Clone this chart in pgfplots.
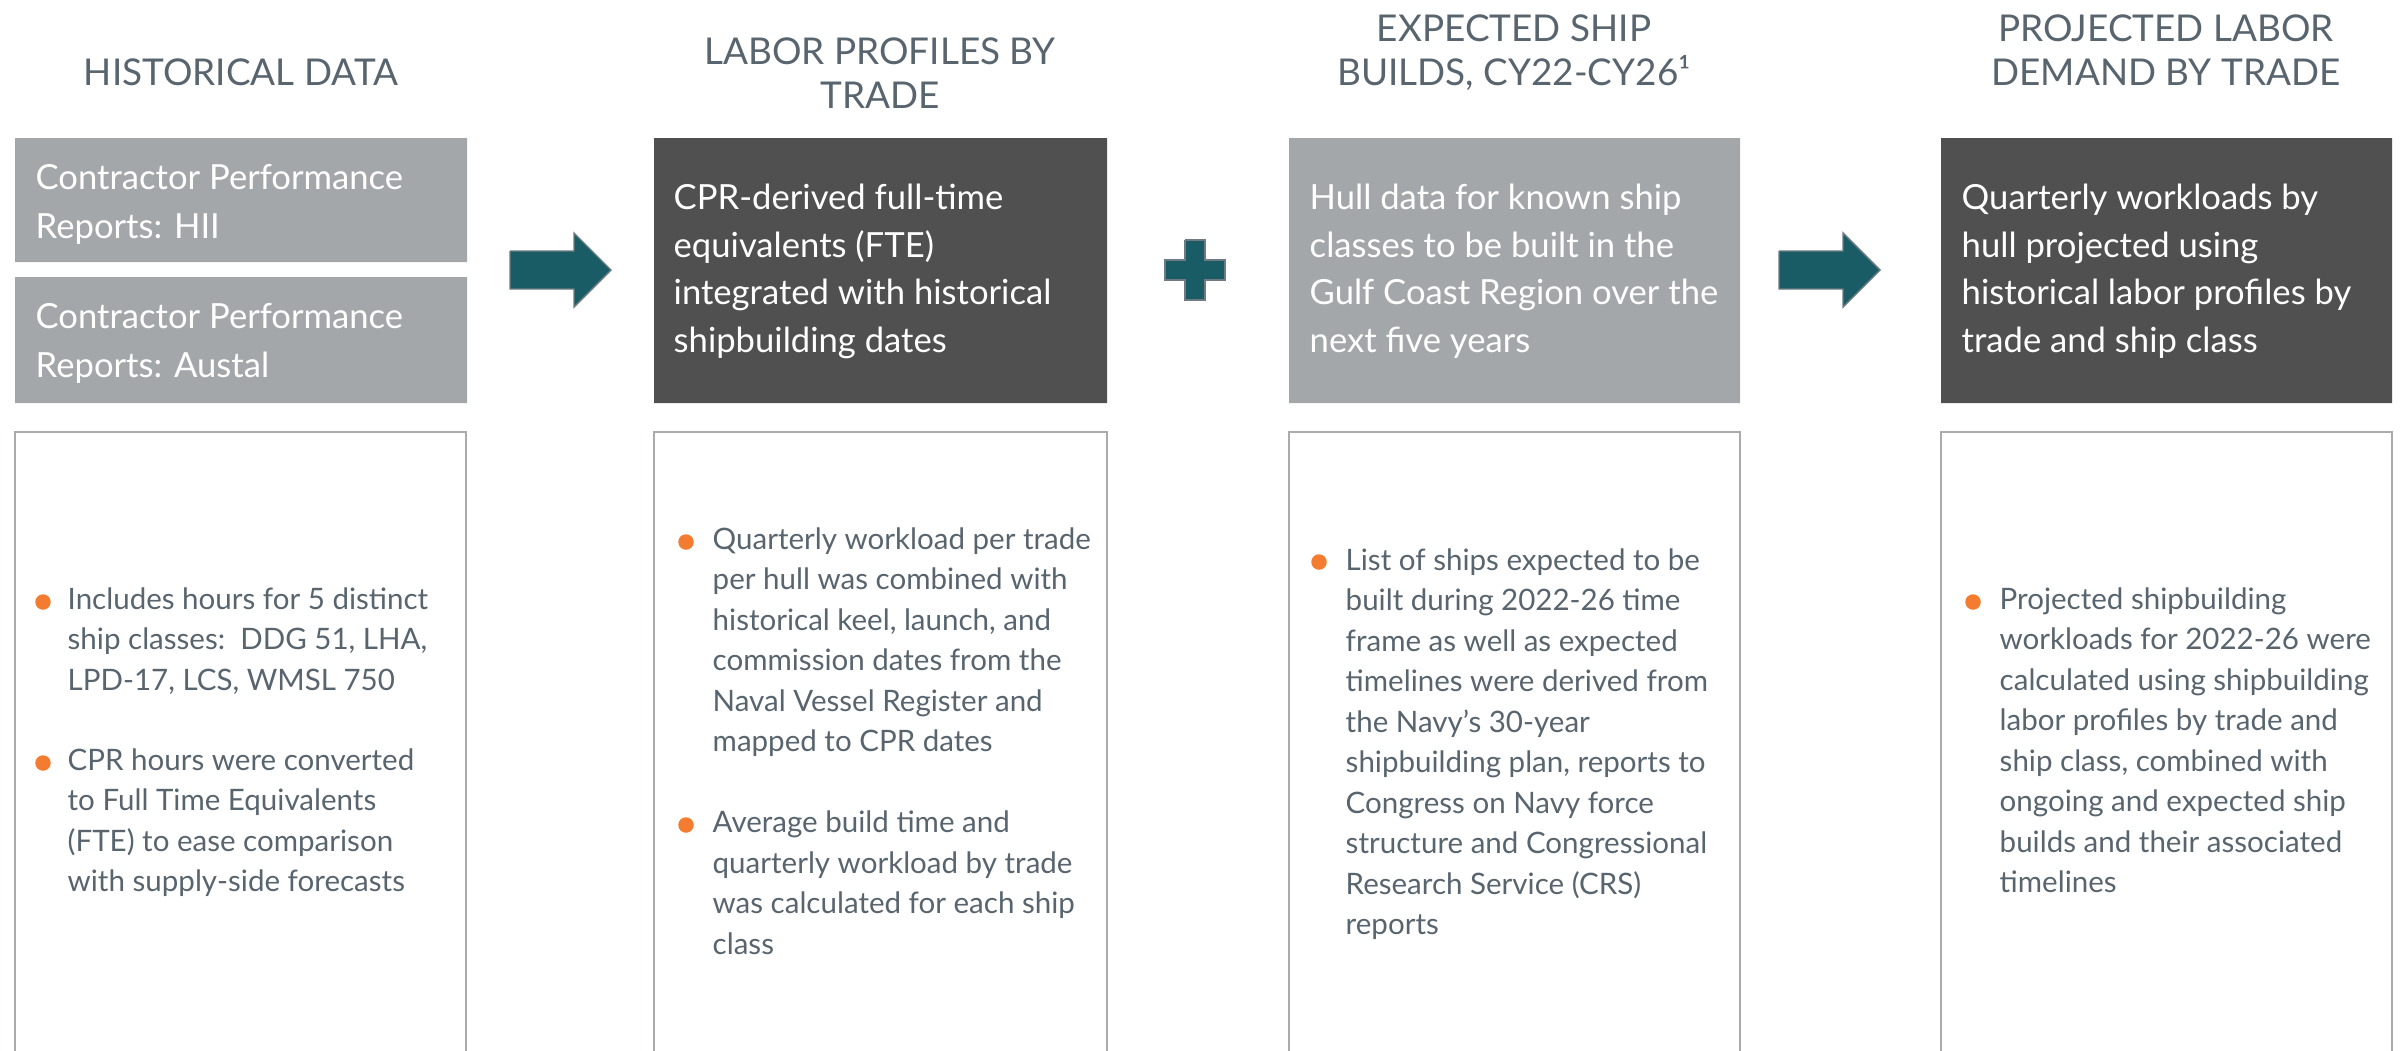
\documentclass[border=0pt]{standalone}
\usepackage{pgfplots}
\pgfplotsset{compat=1.18}
\usepackage{fontspec}
\setmainfont{Lato}
\definecolor{lightbox}{HTML}{A4A7AA}
\definecolor{darkbox}{HTML}{505050}
\definecolor{slate}{HTML}{58646E}
\definecolor{bord}{HTML}{A9ABAE}
\definecolor{teal1}{HTML}{1A5C66}
\definecolor{arrowedge}{HTML}{6E7B82}
\definecolor{orng}{HTML}{F47C30}
\tikzset{
  hd/.style={anchor=base, inner sep=0pt, text=slate, font=\fontsize{10.5}{12}\selectfont},
  bx/.style={anchor=base west, inner sep=0pt, text=white, font=\fontsize{9.85}{11}\selectfont},
  bl/.style={anchor=base west, inner sep=0pt, text=slate, font=\fontsize{8.4}{10}\selectfont},
}
\begin{document}
\begin{tikzpicture}
\begin{axis}[
  scale only axis, width=240mm, height=105mm,
  xmin=0, xmax=2400, ymin=0, ymax=1050, y dir=reverse,
  axis lines=none, ticks=none,
]
\coordinate (BB1) at (axis cs:0,1050);
\coordinate (BB2) at (axis cs:2400,0);
% top boxes
\addplot[fill=lightbox, draw=none] coordinates {(15,138) (467,138) (467,262) (15,262) (15,138)};
\addplot[fill=lightbox, draw=none] coordinates {(15,277) (467,277) (467,403) (15,403) (15,277)};
\addplot[fill=darkbox, draw=none] coordinates {(654,138) (1107,138) (1107,403) (654,403) (654,138)};
\addplot[fill=lightbox, draw=none] coordinates {(1289,138) (1740,138) (1740,403) (1289,403) (1289,138)};
\addplot[fill=darkbox, draw=none] coordinates {(1941,138) (2392,138) (2392,403) (1941,403) (1941,138)};
% bottom boxes (open at the bottom edge)
\addplot[draw=bord, line width=0.6pt] coordinates {(15,1070) (15,432) (466,432) (466,1070)};
\addplot[draw=bord, line width=0.6pt] coordinates {(654,1070) (654,432) (1107,432) (1107,1070)};
\addplot[draw=bord, line width=0.6pt] coordinates {(1289,1070) (1289,432) (1740,432) (1740,1070)};
\addplot[draw=bord, line width=0.6pt] coordinates {(1941,1070) (1941,432) (2392,432) (2392,1070)};
% arrows
\addplot[fill=teal1, draw=arrowedge, line width=0.4pt] coordinates {(510,251) (574,251) (574,233) (611,270) (574,307) (574,289) (510,289) (510,251)};
\addplot[fill=teal1, draw=arrowedge, line width=0.4pt] coordinates {(1779,251) (1843,251) (1843,233) (1880,270) (1843,307) (1843,289) (1779,289) (1779,251)};
% plus
\addplot[fill=teal1, draw=arrowedge, line width=0.5pt] coordinates {(1185,240) (1205,240) (1205,260) (1225,260) (1225,280) (1205,280) (1205,300) (1185,300) (1185,280) (1165,280) (1165,260) (1185,260) (1185,240)};
% bullets
\addplot[only marks, mark=*, mark size=2pt, color=orng] coordinates {(43,602) (43,763) (686,542) (686,825) (1319,562) (1973,602)};

% headers
\node[hd] at (axis cs:241,85.5) {HISTORICAL DATA};
\node[hd] at (axis cs:880,64.5) {LABOR PROFILES BY};
\node[hd] at (axis cs:880,108.5) {TRADE};
\node[hd] at (axis cs:1514,41.5) {EXPECTED SHIP};
\node[hd] at (axis cs:1514,85.5) {BUILDS, CY22-CY26¹};
\node[hd] at (axis cs:2166,41.5) {PROJECTED LABOR};
\node[hd] at (axis cs:2166,85.5) {DEMAND BY TRADE};

% box texts
\node[bx] at (axis cs:35,189) {Contractor Performance};
\node[bx] at (axis cs:35,238) {Reports: HII};
\node[bx] at (axis cs:35,328) {Contractor Performance};
\node[bx] at (axis cs:35,377) {Reports: Austal};

\node[bx] at (axis cs:673,209) {CPR-derived full-time};
\node[bx] at (axis cs:673,257) {equivalents (FTE)};
\node[bx] at (axis cs:673,304) {integrated with historical};
\node[bx] at (axis cs:673,352) {shipbuilding dates};

\node[bx] at (axis cs:1309,209) {Hull data for known ship};
\node[bx] at (axis cs:1309,257) {classes to be built in the};
\node[bx] at (axis cs:1309,304) {Gulf Coast Region over the};
\node[bx] at (axis cs:1309,352) {next five years};

\node[bx] at (axis cs:1961,209) {Quarterly workloads by};
\node[bx] at (axis cs:1961,257) {hull projected using};
\node[bx] at (axis cs:1961,304) {historical labor profiles by};
\node[bx] at (axis cs:1961,352) {trade and ship class};

% column 1 bullets
\node[bl] at (axis cs:67,609) {Includes hours for 5 distinct};
\node[bl] at (axis cs:67,649.5) {ship classes:\ \ DDG 51, LHA,};
\node[bl] at (axis cs:67,690) {LPD-17, LCS, WMSL 750};
\node[bl] at (axis cs:67,770) {CPR hours were converted};
\node[bl] at (axis cs:67,810.5) {to Full Time Equivalents};
\node[bl] at (axis cs:67,851) {(FTE) to ease comparison};
\node[bl] at (axis cs:67,891.5) {with supply-side forecasts};

% column 2 bullets
\node[bl] at (axis cs:712,549) {Quarterly workload per trade};
\node[bl] at (axis cs:712,589.5) {per hull was combined with};
\node[bl] at (axis cs:712,630) {historical keel, launch, and};
\node[bl] at (axis cs:712,670.5) {commission dates from the};
\node[bl] at (axis cs:712,711) {Naval Vessel Register and};
\node[bl] at (axis cs:712,751.5) {mapped to CPR dates};
\node[bl] at (axis cs:712,832.5) {Average build time and};
\node[bl] at (axis cs:712,873) {quarterly workload by trade};
\node[bl] at (axis cs:712,913.5) {was calculated for each ship};
\node[bl] at (axis cs:712,954) {class};

% column 3 bullets
\node[bl] at (axis cs:1345,570) {List of ships expected to be};
\node[bl] at (axis cs:1345,610.5) {built during 2022-26 time};
\node[bl] at (axis cs:1345,651) {frame as well as expected};
\node[bl] at (axis cs:1345,691.5) {timelines were derived from};
\node[bl] at (axis cs:1345,732) {the Navy’s 30-year};
\node[bl] at (axis cs:1345,772.5) {shipbuilding plan, reports to};
\node[bl] at (axis cs:1345,813) {Congress on Navy force};
\node[bl] at (axis cs:1345,853.5) {structure and Congressional};
\node[bl] at (axis cs:1345,894) {Research Service (CRS)};
\node[bl] at (axis cs:1345,934.5) {reports};

% column 4 bullets
\node[bl] at (axis cs:1999,609) {Projected shipbuilding};
\node[bl] at (axis cs:1999,649.5) {workloads for 2022-26 were};
\node[bl] at (axis cs:1999,690) {calculated using shipbuilding};
\node[bl] at (axis cs:1999,730.5) {labor profiles by trade and};
\node[bl] at (axis cs:1999,771) {ship class, combined with};
\node[bl] at (axis cs:1999,811.5) {ongoing and expected ship};
\node[bl] at (axis cs:1999,852) {builds and their associated};
\node[bl] at (axis cs:1999,892.5) {timelines};
\end{axis}
\pgfresetboundingbox
\path (BB1) rectangle (BB2);
\end{tikzpicture}
\end{document}
